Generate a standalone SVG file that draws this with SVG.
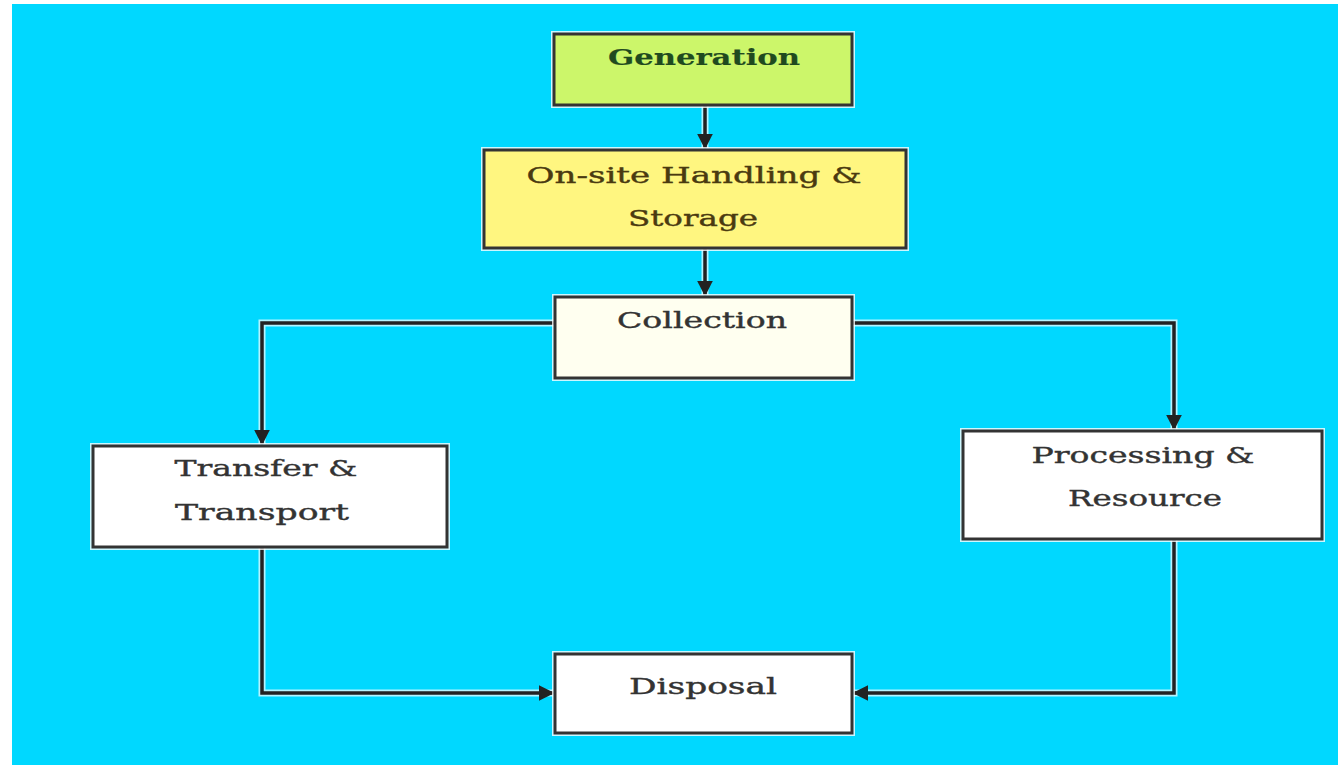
<svg xmlns="http://www.w3.org/2000/svg" width="1338" height="765" viewBox="0 0 1338 765">
<style>
.halo{fill:none;stroke:#ffffff;stroke-width:6;opacity:0.8}
.box{stroke:#333333;stroke-width:3}
.t{font-family:"DejaVu Serif","Liberation Serif",serif;font-size:23px;text-anchor:middle;fill:#333333;stroke:#333333;stroke-width:0.4}
.line{fill:none;stroke:#222222;stroke-width:3.5}
.lhalo{fill:none;stroke:#ffffff;stroke-width:7;opacity:0.7}
</style>
<defs>
<marker id="arr" viewBox="0 0 10 10" refX="9" refY="5" markerWidth="4.5" markerHeight="4.5" orient="auto" markerUnits="strokeWidth">
<path d="M0,0 L10,5 L0,10 z" fill="#222222"/>
</marker>
</defs>
<rect x="0" y="0" width="1338" height="765" fill="#ffffff"/>
<rect x="12" y="4" width="1326" height="761" fill="#00D8FF"/>
<g id="connectors">
<path class="lhalo" d="M705,106 V148"/>
<path class="line" d="M705,106 V148" marker-end="url(#arr)"/>
<path class="lhalo" d="M705,249 V295"/>
<path class="line" d="M705,249 V295" marker-end="url(#arr)"/>
<path class="lhalo" d="M555,323 H262 V444"/>
<path class="line" d="M555,323 H262 V444" marker-end="url(#arr)"/>
<path class="lhalo" d="M852,323 H1174 V429"/>
<path class="line" d="M852,323 H1174 V429" marker-end="url(#arr)"/>
<path class="lhalo" d="M262,548 V693 H553"/>
<path class="line" d="M262,548 V693 H553" marker-end="url(#arr)"/>
<path class="lhalo" d="M1174,540 V693 H854"/>
<path class="line" d="M1174,540 V693 H854" marker-end="url(#arr)"/>
</g>
<g id="generation">
<rect class="halo" x="554" y="34" width="298" height="71"/>
<rect class="box" x="554" y="34" width="298" height="71" fill="#CCF66A"/>
<text class="t" x="704" y="65" textLength="192" lengthAdjust="spacingAndGlyphs" style="fill:#1f4a1f;stroke:#1f4a1f;font-weight:bold;stroke-width:0.2">Generation</text>
</g>
<g id="onsite">
<rect class="halo" x="484" y="150" width="422" height="98"/>
<rect class="box" x="484" y="150" width="422" height="98" fill="#FFF680"/>
<text class="t" x="694" y="183" textLength="335" lengthAdjust="spacingAndGlyphs" style="fill:#4a3a10;stroke:#4a3a10">On-site Handling &amp;</text>
<text class="t" x="693" y="226" textLength="130" lengthAdjust="spacingAndGlyphs" style="fill:#4a3a10;stroke:#4a3a10">Storage</text>
</g>
<g id="collection">
<rect class="halo" x="555" y="297" width="297" height="81"/>
<rect class="box" x="555" y="297" width="297" height="81" fill="#FFFFF0"/>
<text class="t" x="702" y="328" textLength="170" lengthAdjust="spacingAndGlyphs">Collection</text>
</g>
<g id="transfer">
<rect class="halo" x="93" y="446" width="354" height="101"/>
<rect class="box" x="93" y="446" width="354" height="101" fill="#ffffff"/>
<text class="t" x="266" y="476" textLength="183" lengthAdjust="spacingAndGlyphs">Transfer &amp;</text>
<text class="t" x="262" y="520" textLength="174" lengthAdjust="spacingAndGlyphs">Transport</text>
</g>
<g id="processing">
<rect class="halo" x="963" y="431" width="359" height="108"/>
<rect class="box" x="963" y="431" width="359" height="108" fill="#ffffff"/>
<text class="t" x="1143" y="463" textLength="223" lengthAdjust="spacingAndGlyphs">Processing &amp;</text>
<text class="t" x="1145" y="506" textLength="154" lengthAdjust="spacingAndGlyphs">Resource</text>
</g>
<g id="disposal">
<rect class="halo" x="555" y="654" width="297" height="79"/>
<rect class="box" x="555" y="654" width="297" height="79" fill="#ffffff"/>
<text class="t" x="703" y="694" textLength="148" lengthAdjust="spacingAndGlyphs">Disposal</text>
</g>
</svg>
